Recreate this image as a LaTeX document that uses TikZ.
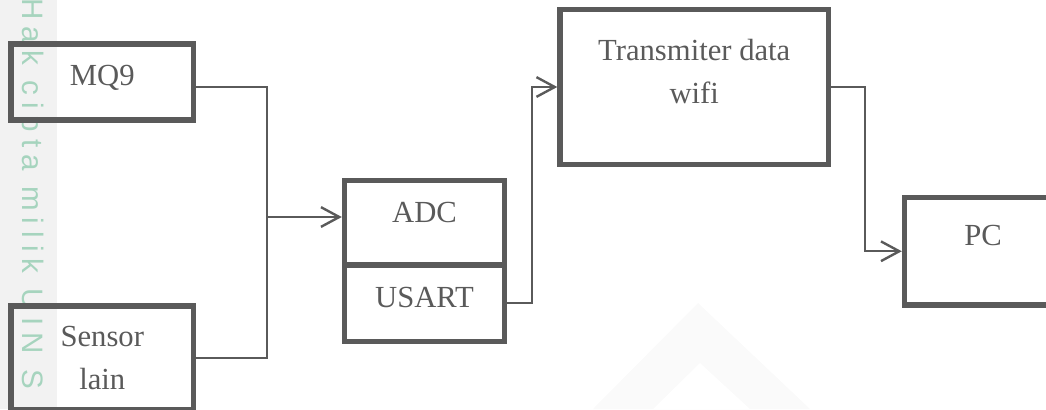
\documentclass[tikz,border=0pt]{standalone}
\usepackage{fontspec}
\setmainfont{Liberation Serif}
\newfontfamily\wmfont[LetterSpace=24]{Liberation Sans}
\usepackage{xcolor}
\usepackage{tikz}
\usetikzlibrary{arrows.meta}

\definecolor{abu}{RGB}{90,90,90}
\definecolor{hijaumuda}{RGB}{166,212,190}

\tikzset{
 blok/.style={draw=abu,line width=3.8pt,inner sep=0pt},
 tulisan/.style={text=abu,font=\fontsize{21.8pt}{30.6pt}\selectfont,align=center,inner sep=0pt},
 garis/.style={draw=abu,line width=1.7pt},
 alur/.style={garis,-{Straight Barb[length=13pt,width=14pt]}},
}

\begin{document}
\begin{tikzpicture}[x=.025cm,y=-.025cm]
 \useasboundingbox (0,0) rectangle (1046,409);
 % watermark strip and mark
 \fill[black!5] (0,0) rectangle (57,409);
 \fill[black!2,even odd rule] (593,409)--(698,303)--(810,409)--cycle
  (653,409)--(700,363)--(750,409)--cycle;
 \node[rotate=-90,anchor=base west,inner sep=0pt,text=hijaumuda,
  font=\wmfont\fontsize{21pt}{22pt}\selectfont] (wm) at (23,-2) {Hak cipta milik UIN S};

 % sensors
 \node[blok,minimum width=4.5625cm,minimum height=1.9cm,
  label={[tulisan,yshift=3pt]center:MQ9}] (mq) at (102.25,82) {};
 \node[blok,minimum width=4.5625cm,minimum height=2.6cm,
  label={[tulisan]center:Sensor\\lain}] (sensor) at (102.25,358) {};

 % microcontroller
 \node[blok,minimum width=4cm,minimum height=2.1125cm,
  label={[tulisan,yshift=7.5pt]center:ADC}] (adc) at (424.5,222.75) {};
 \node[blok,minimum width=4cm,minimum height=1.9125cm,
  label={[tulisan,yshift=4.4pt]center:USART}] (usart) at (424.5,303.25) {};

 % transmitter and pc
 \node[blok,minimum width=6.7125cm,minimum height=3.875cm,
  label={[tulisan,yshift=11pt]center:Transmiter data\\wifi}] (tx) at (694.25,87) {};
 \node[blok,minimum width=3.925cm,minimum height=2.6875cm,
  label={[tulisan,yshift=11.4pt]center:PC}] (pc) at (983,251.25) {};

 % connectors
 \coordinate (cabang) at (267,217);
 \draw[garis] ([yshift=-3.5pt]mq.east) -| (cabang);
 \draw[garis] (sensor.east) -| (cabang);
 \draw[alur] (cabang) -- (cabang -| adc.west);
 \draw[alur] (usart.east) -- ++(25,0) |- (tx.west);
 \draw[alur] (tx.east) -- ++(34,0) |- (pc.west);
\end{tikzpicture}
\end{document}
